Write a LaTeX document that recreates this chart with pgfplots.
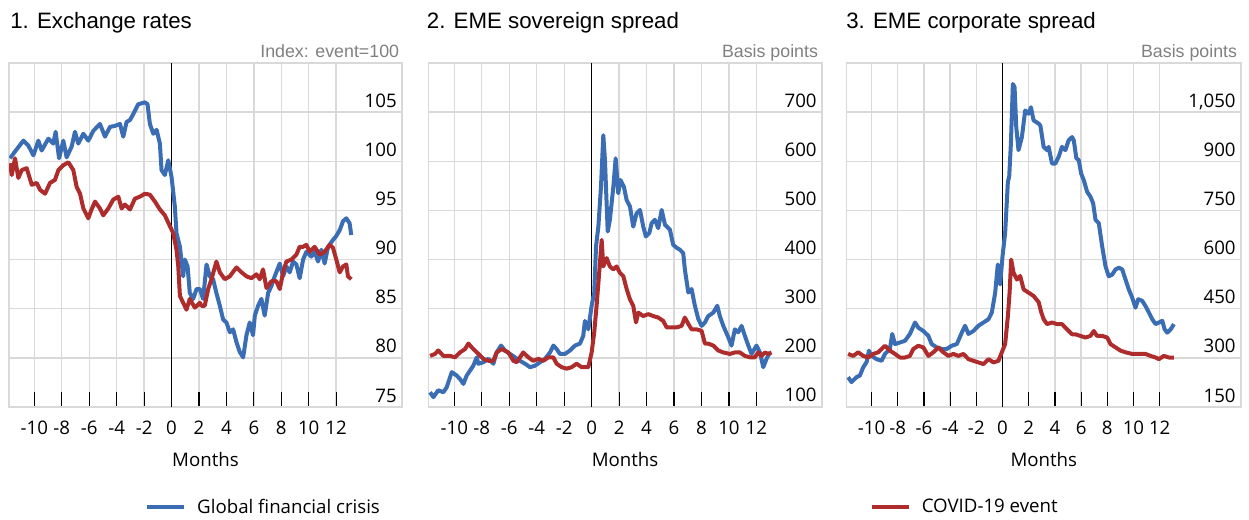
\documentclass[border=0pt]{standalone}
\usepackage{pgfplots}
\pgfplotsset{compat=1.18}
\usepackage{fontspec}
\setmainfont{Open Sans}
\newfontfamily\titlefont{Liberation Sans}
\definecolor{gfc}{HTML}{3A6DB3}
\definecolor{cov}{HTML}{AE2C2C}
\definecolor{gridc}{HTML}{D9D9D9}
\definecolor{unitc}{HTML}{808080}
\newcommand\lblfont{\fontsize{14}{16}\selectfont}

\pgfplotsset{
  panel/.style={
    scale only axis, height=258pt, anchor=north west,
    enlargelimits=false,
    axis line style={draw=gridc, line width=1pt},
    grid=major, major grid style={draw=gridc, line width=1pt},
    xtick={-10,-8,...,12},
    xticklabels={-10,-8,-6,-4,-2,0,2,4,6,8,10,12},
    xtick pos=bottom, ytick pos=right, tick align=inside,
    major tick length=11.25pt,
    x tick style={black, line width=0.9pt},
    y tick style={draw=none},
    yticklabel pos=right,
    tick label style={font=\lblfont, inner sep=0pt},
    yticklabel style={anchor=base east, xshift=-3.75pt, yshift=3.75pt},
    xticklabel style={anchor=north, yshift=-10.5pt},
    xlabel={Months},
    xlabel style={font=\lblfont, inner sep=0pt, at={(axis description cs:0.5,0)}, anchor=north, yshift=-34pt},
    every axis plot/.append style={line width=3pt, line join=round},
    legend style={draw=none, fill=none, inner sep=0pt, font=\lblfont, anchor=west,
      nodes={inner sep=0pt},
      /tikz/every odd column/.append style={column sep=8.25pt}},
    legend image code/.code={\draw[##1, line width=3pt] (0pt,0pt) -- (27.75pt,0pt);},
  }
}

\begin{document}
\begin{tikzpicture}
\useasboundingbox (0,0) rectangle (936.75pt,-390pt);

% titles and units
\node[anchor=base west, inner sep=0pt, font=\titlefont\fontsize{16.7}{18}\selectfont] at (7.5pt,-21.75pt) {1. Exchange rates};
\node[anchor=base west, inner sep=0pt, font=\titlefont\fontsize{16.7}{18}\selectfont] at (320pt,-21.75pt) {2. EME sovereign spread};
\node[anchor=base west, inner sep=0pt, font=\titlefont\fontsize{16.7}{18}\selectfont] at (634.5pt,-21.75pt) {3. EME corporate spread};
\node[anchor=base east, inner sep=0pt, text=unitc, font=\titlefont\fontsize{13.35}{15}\selectfont] at (299.5pt,-43pt) {Index: event=100};
\node[anchor=base east, inner sep=0pt, text=unitc, font=\titlefont\fontsize{13.35}{15}\selectfont] at (613.7pt,-43pt) {Basis points};
\node[anchor=base east, inner sep=0pt, text=unitc, font=\titlefont\fontsize{13.35}{15}\selectfont] at (928pt,-43pt) {Basis points};

% panel 1
\begin{axis}[panel, at={(6.75pt,-47.25pt)}, width=294.75pt,
  xmin=-11.85, xmax=16.8, ymin=75, ymax=110,
  ytick={75,80,...,105}, yticklabels={75,80,85,90,95,100,105},
  legend style={at={(0.346,-0.291)}}]
\addplot[black, line width=0.75pt, forget plot] coordinates {(0,75)(0,110)};
\addplot[gfc] coordinates {
(-11.77,100.3)(-11.41,101.0)(-10.80,102.1)(-10.44,101.6)(-10.07,100.6)(-9.71,102.1)(-9.47,101.1)(-8.98,102.3)(-8.62,101.8)(-8.45,103.0)(-8.20,100.3)(-7.89,102.1)(-7.65,100.4)(-7.28,101.5)(-7.04,103.0)(-6.80,101.8)(-6.43,102.8)(-6.07,102.1)(-5.70,103.1)(-5.22,103.8)(-4.85,102.5)(-4.49,103.5)(-4.13,103.6)(-3.76,103.8)(-3.52,102.5)(-3.28,104.0)(-3.03,104.2)(-2.79,104.8)(-2.43,105.8)(-1.94,106.0)(-1.75,105.8)(-1.58,103.8)(-1.33,102.8)(-1.09,103.2)(-0.85,101.8)(-0.73,99.1)(-0.49,98.6)(-0.24,100.1)(0,98.4)(0.24,95.4)(0.36,92.7)(0.61,91.3)(0.85,88.3)(0.97,90.0)(1.17,89.3)(1.33,86.6)(1.58,86.0)(1.82,87.0)(2.06,87.0)(2.30,86.0)(2.55,89.5)(2.79,88.3)(3.03,88.0)(3.27,86.6)(3.52,85.3)(3.76,83.9)(4.00,83.6)(4.25,82.6)(4.49,82.9)(4.73,81.6)(4.97,80.6)(5.22,80.05)(5.46,82.3)(5.70,83.6)(5.94,82.3)(6.07,84.3)(6.31,85.3)(6.55,86.0)(6.79,84.3)(7.04,86.6)(7.28,87.3)(7.52,88.3)(7.89,89.6)(8.13,88.3)(8.37,89.3)(8.61,88.7)(8.86,89.8)(9.10,89.5)(9.34,88.1)(9.59,90.0)(9.83,90.8)(10.19,90.3)(10.43,90.8)(10.68,89.8)(10.92,91.0)(11.16,89.6)(11.41,91.3)(11.77,92.0)(12.01,92.4)(12.26,93.0)(12.50,93.9)(12.74,94.2)(12.98,93.7)(13.10,92.5)
};
\addlegendentry{Global financial crisis}
\addplot[cov, forget plot] coordinates {
(-11.77,99.8)(-11.65,98.6)(-11.41,100.3)(-11.17,98.3)(-10.92,99.1)(-10.56,99.3)(-10.19,97.6)(-9.83,97.8)(-9.59,97.1)(-9.22,96.7)(-8.86,97.8)(-8.50,98.1)(-8.25,99.1)(-7.89,99.6)(-7.52,99.9)(-7.16,99.1)(-6.92,97.4)(-6.67,96.7)(-6.43,95.2)(-6.07,94.2)(-5.83,95.1)(-5.58,95.9)(-5.22,95.2)(-4.98,94.5)(-4.61,95.2)(-4.25,96.1)(-3.88,96.4)(-3.64,95.2)(-3.40,95.6)(-3.03,95.1)(-2.67,96.2)(-2.31,96.4)(-1.94,96.7)(-1.58,96.6)(-1.21,95.9)(-0.85,95.1)(-0.49,94.5)(-0.12,93.4)(0.12,92.7)(0.36,91.0)(0.49,89.3)(0.61,86.3)(0.85,85.6)(1.09,84.9)(1.33,86.0)(1.70,85.1)(2.06,85.6)(2.18,85.3)(2.42,85.3)(2.67,87.0)(2.91,88.0)(3.27,89.8)(3.52,88.7)(3.88,88.0)(4.25,88.3)(4.73,89.2)(5.10,88.7)(5.46,88.3)(5.82,88.1)(6.19,88.5)(6.43,88.0)(6.67,89.0)(6.92,87.1)(7.28,87.8)(7.64,87.8)(7.89,87.0)(8.13,88.7)(8.37,89.8)(8.74,90.0)(9.10,90.5)(9.34,91.3)(9.59,91.3)(9.83,91.5)(10.07,90.8)(10.43,91.3)(10.80,90.5)(11.16,90.8)(11.53,91.5)(11.77,91.2)(12.01,90.0)(12.26,88.7)(12.50,89.3)(12.74,89.5)(12.86,88.3)(13.10,88.0)
};
\end{axis}

% panel 2
\begin{axis}[panel, at={(321.2pt,-47.25pt)}, width=295.2pt,
  xmin=-11.9, xmax=16.77, ymin=100, ymax=800,
  ytick={100,200,...,700}, yticklabels={100,200,300,400,500,600,700}]
\addplot[black, line width=0.75pt, forget plot] coordinates {(0,100)(0,800)};
\addplot[gfc] coordinates {
(-11.77,130)(-11.53,120)(-11.17,134)(-10.80,130)(-10.56,140)(-10.19,171)(-9.83,164)(-9.59,157)(-9.34,147)(-9.10,164)(-8.86,174)(-8.62,184)(-8.37,201)(-8.25,188)(-7.89,191)(-7.52,198)(-7.16,188)(-6.92,211)(-6.60,225)(-6.31,215)(-5.95,208)(-5.58,201)(-5.22,194)(-4.85,188)(-4.49,181)(-4.13,184)(-3.76,191)(-3.40,198)(-3.03,211)(-2.79,225)(-2.55,218)(-2.31,208)(-1.94,208)(-1.58,215)(-1.21,225)(-0.85,229)(-0.61,245)(-0.49,275)(-0.24,258)(0,306)(0.19,333)(0.32,427)(0.49,467)(0.68,548)(0.85,653)(0.97,602)(1.17,457)(1.33,481)(1.58,548)(1.75,606)(1.94,535)(2.10,562)(2.35,548)(2.55,521)(2.79,508)(3.03,467)(3.27,494)(3.52,501)(3.76,467)(3.95,447)(4.20,454)(4.37,474)(4.61,481)(4.85,464)(5.10,501)(5.34,471)(5.70,461)(5.94,430)(6.19,424)(6.43,420)(6.67,413)(6.79,380)(7.04,333)(7.28,340)(7.52,306)(7.77,279)(8.01,265)(8.25,272)(8.49,285)(8.86,292)(9.15,306)(9.34,285)(9.59,265)(9.95,242)(10.19,225)(10.43,258)(10.68,252)(10.92,265)(11.16,245)(11.41,225)(11.65,208)(12.01,225)(12.26,211)(12.50,181)(12.74,198)(12.98,211)
};
\addplot[cov] coordinates {
(-11.77,204)(-11.41,208)(-11.17,215)(-10.80,204)(-10.32,204)(-9.95,201)(-9.59,211)(-9.22,218)(-8.98,229)(-8.62,218)(-8.25,208)(-7.89,198)(-7.52,194)(-7.16,194)(-6.92,211)(-6.55,218)(-6.07,211)(-5.70,194)(-5.46,191)(-5.22,201)(-4.98,211)(-4.61,201)(-4.25,194)(-3.88,198)(-3.52,194)(-3.16,201)(-2.79,201)(-2.55,188)(-2.18,181)(-1.82,178)(-1.46,181)(-1.09,188)(-0.73,181)(-0.24,181)(0,211)(0.19,252)(0.36,306)(0.53,366)(0.73,440)(0.85,386)(1.09,403)(1.33,386)(1.58,380)(1.82,386)(2.06,373)(2.31,366)(2.55,340)(2.79,319)(3.03,306)(3.23,272)(3.40,292)(3.76,285)(4.12,289)(4.49,285)(4.85,282)(5.22,275)(5.46,262)(5.82,262)(6.19,262)(6.55,265)(6.79,282)(7.04,269)(7.28,258)(7.64,258)(8.01,255)(8.25,229)(8.49,229)(8.86,225)(9.22,215)(9.59,211)(10.07,208)(10.43,211)(10.80,211)(11.16,204)(11.53,201)(11.89,201)(12.13,211)(12.38,204)(12.62,211)(12.86,208)(13.10,211)
};
\end{axis}

% panel 3
\begin{axis}[panel, at={(635pt,-47.25pt)}, width=295.65pt,
  xmin=-11.9, xmax=18.2, ymin=150, ymax=1200,
  ytick={150,300,...,1050}, yticklabels={150,300,450,600,750,900,{1,050}},
  legend style={at={(0.058,-0.291)}}]
\addplot[black, line width=0.75pt, forget plot] coordinates {(0,150)(0,1200)};
\addplot[gfc, forget plot] coordinates {
(-11.79,241)(-11.53,226)(-11.15,241)(-10.89,246)(-10.64,271)(-10.38,287)(-10.20,322)(-10.00,306)(-9.62,296)(-9.23,291)(-8.98,312)(-8.60,327)(-8.42,373)(-8.21,342)(-7.83,347)(-7.45,352)(-7.07,373)(-6.68,408)(-6.43,392)(-6.05,382)(-5.66,367)(-5.41,342)(-5.03,332)(-4.64,327)(-4.26,327)(-3.88,337)(-3.49,342)(-3.11,377)(-2.86,398)(-2.60,373)(-2.22,382)(-1.84,398)(-1.45,408)(-1.07,418)(-0.82,438)(-0.56,499)(-0.36,585)(-0.18,524)(0,610)(0.20,681)(0.41,838)(0.51,853)(0.64,954)(0.79,1136)(0.92,1126)(1.05,1004)(1.22,934)(1.48,974)(1.73,1055)(1.99,1045)(2.17,1065)(2.37,1025)(2.76,1015)(2.89,1009)(3.14,944)(3.40,934)(3.52,944)(3.78,893)(4.03,893)(4.29,914)(4.54,944)(4.80,934)(5.05,964)(5.31,974)(5.44,964)(5.64,909)(5.82,904)(6.00,863)(6.20,843)(6.46,807)(6.71,792)(6.92,772)(7.10,721)(7.35,711)(7.61,640)(7.86,580)(8.11,549)(8.37,554)(8.63,570)(8.88,575)(9.14,570)(9.39,539)(9.64,509)(9.90,484)(10.15,453)(10.36,479)(10.67,474)(10.92,458)(11.18,438)(11.43,418)(11.69,403)(11.94,408)(12.20,413)(12.38,387)(12.58,377)(12.84,387)(13.09,403)
};
\addplot[cov] coordinates {
(-11.79,312)(-11.40,306)(-11.02,317)(-10.64,306)(-10.26,301)(-9.87,312)(-9.49,317)(-8.98,337)(-8.60,322)(-8.21,312)(-7.83,301)(-7.45,301)(-7.07,306)(-6.81,327)(-6.43,337)(-6.05,332)(-5.66,306)(-5.28,317)(-4.90,332)(-4.52,317)(-4.13,306)(-3.75,312)(-3.37,306)(-2.98,312)(-2.60,296)(-2.22,291)(-1.84,286)(-1.45,281)(-1.07,296)(-0.69,286)(-0.31,291)(-0.05,317)(0.20,342)(0.41,428)(0.54,499)(0.66,600)(0.84,560)(1.10,539)(1.35,550)(1.61,509)(1.99,499)(2.37,489)(2.76,470)(2.95,440)(3.14,418)(3.40,403)(3.78,408)(4.16,403)(4.54,403)(4.93,387)(5.31,372)(5.56,372)(5.95,367)(6.33,362)(6.71,367)(6.97,382)(7.22,367)(7.61,367)(7.99,362)(8.24,342)(8.63,332)(9.01,322)(9.39,317)(9.90,312)(10.41,312)(10.92,312)(11.30,306)(11.69,301)(11.94,296)(12.32,306)(12.71,301)(13.09,301)
};
\addlegendentry{COVID-19 event}
\end{axis}
\end{tikzpicture}
\end{document}
